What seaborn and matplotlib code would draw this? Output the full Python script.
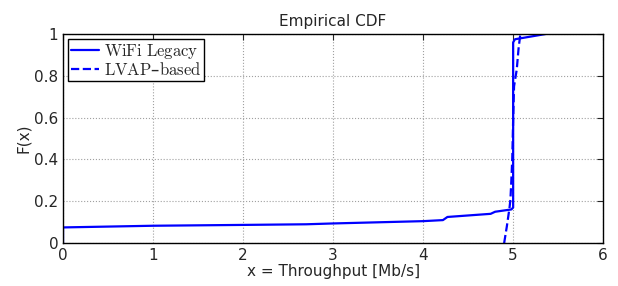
import numpy as np
import pandas as pd
import matplotlib
matplotlib.use("Agg")
import matplotlib.pyplot as plt
import seaborn as sns

# Points
legacy_x = [0.0, 0.0, 1.0, 2.0, 2.7, 3.0, 4.0, 4.22, 4.27, 4.75, 4.8, 4.98, 5.0, 5.0, 5.02, 5.36]
legacy_f = [0.0, 0.075, 0.083, 0.087, 0.090, 0.094, 0.105, 0.110, 0.125, 0.140, 0.150, 0.161, 0.17, 0.96, 0.975, 1.0]

lvap_x = [4.9, 4.93, 4.96, 4.97, 4.98, 4.99, 5.0, 5.01, 5.04, 5.06, 5.08]
lvap_f = [0.0, 0.08, 0.17, 0.21, 0.30, 0.40, 0.59, 0.75, 0.83, 0.93, 1.0]

sns.set_style("white")
plt.rcParams["font.family"] = ["DejaVu Sans"]
plt.rcParams["mathtext.fontset"] = "cm"

fig = plt.figure(figsize=(6.18, 2.86), dpi=100)
ax = fig.add_axes([0.102, 0.150, 0.874, 0.731])

df_legacy = pd.DataFrame({"x": legacy_x, "F": legacy_f})
df_lvap = pd.DataFrame({"x": lvap_x, "F": lvap_f})

sns.lineplot(data=df_legacy, x="x", y="F", sort=False, estimator=None, color="#0000ff", lw=1.6,
             label=r"$\mathrm{WiFi\ Legacy}$", ax=ax)
sns.lineplot(data=df_lvap, x="x", y="F", sort=False, estimator=None, color="#0000ff", lw=1.6,
             linestyle="--", label=r"$\mathrm{LVAP}$–$\mathrm{based}$", ax=ax)

ax.set_xlim(0, 6)
ax.set_ylim(0, 1)
ax.set_xticks(range(0, 7))
ax.set_yticks([0, 0.2, 0.4, 0.6, 0.8, 1])
ax.set_yticklabels(["0", "0.2", "0.4", "0.6", "0.8", "1"])
ax.grid(True, linestyle=":", color="#a0a0a0", linewidth=0.8)
ax.tick_params(direction="in", top=True, right=True, length=4, labelsize=11, width=0.8)
for s in ax.spines.values():
    s.set_color("black")
    s.set_linewidth(1.0)

ax.set_xlabel("x = Throughput [Mb/s]", fontsize=11, labelpad=1)
ax.set_ylabel("F(x)", fontsize=11, labelpad=2)
ax.set_title("Empirical CDF", fontsize=11, pad=6)

leg = ax.legend(loc="upper left", fancybox=False, edgecolor="black", framealpha=1,
                fontsize=12, borderpad=0.15, handlelength=1.7, handletextpad=0.3,
                labelspacing=0.0, borderaxespad=0.3)
leg.get_frame().set_linewidth(1.0)

fig.savefig("out.png", dpi=100)
